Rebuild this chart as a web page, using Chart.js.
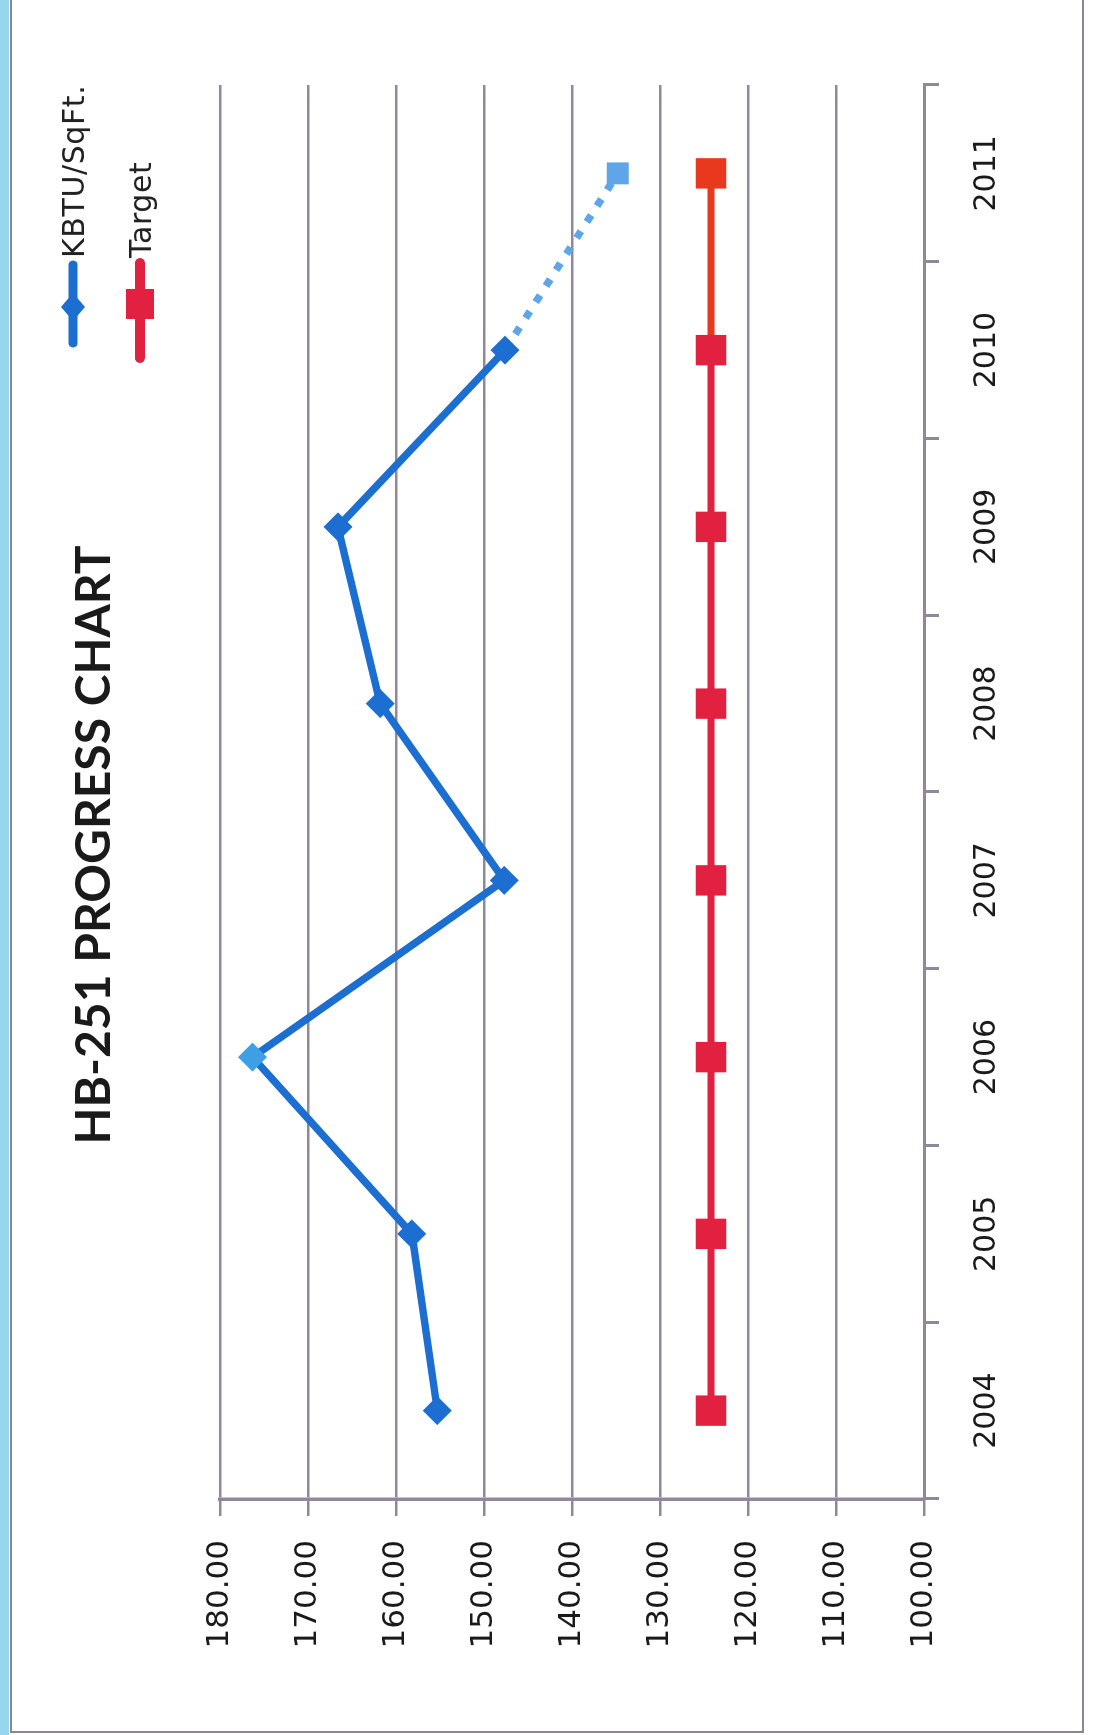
<!DOCTYPE html>
<html>
<head>
<meta charset="utf-8">
<title>HB-251 Progress Chart</title>
<script src="https://cdn.jsdelivr.net/npm/chart.js@4/dist/chart.umd.min.js"></script>
<style>
  html, body { margin: 0; padding: 0; background: #fff; }
  body { width: 1096px; height: 1735px; position: relative; overflow: hidden; }
  #edge { position: absolute; left: 0; top: 0; width: 9px; height: 1735px; background: #97d7ee; }
  #frame { position: absolute; left: 10px; top: -10px; width: 1074px; height: 1743px;
           border: 2px solid #8c8592; box-sizing: border-box; }
  /* the chart is laid out landscape and turned a quarter anticlockwise */
  #turn { position: absolute; left: 0; top: 1735px; width: 1780px; height: 1096px;
          transform-origin: 0 0; transform: rotate(-90deg); }
</style>
</head>
<body>
<div id="edge"></div>
<div id="frame"></div>
<div id="turn"><canvas id="myChart" width="1780" height="1096"></canvas></div>
<script>
var years = ["2004", "2005", "2006", "2007", "2008", "2009", "2010", "2011"];
var kbtu = [155.3, 158.2, 176.3, 147.7, 161.8, 166.6, 147.6, 134.8];
var kbtuProjected = [false, false, false, false, false, false, false, true];
var target = [124.2, 124.2, 124.2, 124.2, 124.2, 124.2, 124.2, 124.2];
var yMin = 100, yMax = 180, yStep = 10;
var chartTitle = "HB-251 PROGRESS CHART";

var blue = "#1c6fd1";
var blueLight = "#5fa6e8";
var red = "#e2203f";
var redOrange = "#e8391f";
var gridGrey = "#918799";

var kbtuPointColors = kbtu.map(function (v, i) {
  if (kbtuProjected[i]) return blueLight;
  return i === 2 ? "#3d9fe4" : blue;
});
var targetPointColors = target.map(function (v, i) {
  return i === target.length - 1 ? redOrange : red;
});

// title and the stacked legend above the plot are drawn by hand
var headings = {
  id: "headings",
  afterDraw: function (chart) {
    var ctx = chart.ctx;
    var r = chart.chartArea.right;
    ctx.save();

    ctx.fillStyle = "#1a1a1a";
    ctx.font = "bold 48px Lato";
    ctx.textAlign = "center";
    ctx.textBaseline = "middle";
    ctx.fillText(chartTitle, 890, 95);

    ctx.lineCap = "round";
    // KBTU/SqFt.
    ctx.strokeStyle = blue;
    ctx.lineWidth = 9;
    ctx.beginPath();
    ctx.moveTo(r - 258, 73);
    ctx.lineTo(r - 180, 73);
    ctx.stroke();
    ctx.fillStyle = blue;
    ctx.beginPath();
    ctx.moveTo(r - 222 - 14, 73);
    ctx.lineTo(r - 222, 73 - 12);
    ctx.lineTo(r - 222 + 14, 73);
    ctx.lineTo(r - 222, 73 + 12);
    ctx.closePath();
    ctx.fill();

    // Target
    ctx.strokeStyle = red;
    ctx.lineWidth = 10;
    ctx.beginPath();
    ctx.moveTo(r - 273, 140);
    ctx.lineTo(r - 178, 140);
    ctx.stroke();
    ctx.fillStyle = red;
    ctx.fillRect(r - 219 - 15, 140 - 14, 30, 28);

    ctx.fillStyle = "#222";
    ctx.font = "30px 'DejaVu Sans'";
    ctx.textAlign = "left";
    ctx.textBaseline = "alphabetic";
    if ("letterSpacing" in ctx) ctx.letterSpacing = "0.6px";
    ctx.fillText("KBTU/SqFt.", r - 173, 84);
    ctx.fillText("Target", r - 173, 151);
    ctx.restore();
  }
};

new Chart("myChart", {
  type: "line",
  data: {
    labels: years,
    datasets: [{
      label: "KBTU/SqFt.",
      data: kbtu,
      borderColor: blue,
      borderWidth: 7.5,
      fill: false,
      tension: 0,
      pointStyle: kbtuProjected.map(function (p) { return p ? "rect" : "rectRot"; }),
      pointRadius: kbtuProjected.map(function (p) { return p ? 15.5 : 14.5; }),
      pointBackgroundColor: kbtuPointColors,
      pointBorderWidth: 0,
      segment: {
        borderColor: function (c) { return kbtuProjected[c.p1DataIndex] ? blueLight : undefined; },
        borderDash: function (c) { return kbtuProjected[c.p1DataIndex] ? [8, 11] : undefined; }
      }
    }, {
      label: "Target",
      data: target,
      borderColor: red,
      borderWidth: 7,
      fill: false,
      tension: 0,
      pointStyle: "rect",
      pointRadius: 21.5,
      pointBackgroundColor: targetPointColors,
      pointBorderWidth: 0,
      segment: {
        borderColor: function (c) { return c.p1DataIndex === target.length - 1 ? redOrange : undefined; }
      }
    }]
  },
  options: {
    responsive: false,
    devicePixelRatio: 1,
    animation: false,
    layout: { padding: { left: 0, right: 130, top: 220, bottom: 0 } },
    plugins: {
      legend: { display: false },
      tooltip: { enabled: false },
      title: { display: false }
    },
    scales: {
      x: {
        offset: true,
        grid: { offset: true, drawOnChartArea: false, drawTicks: true, tickLength: 15,
                color: gridGrey, lineWidth: 3 },
        border: { display: true, color: gridGrey, width: 3 },
        ticks: { color: "#1a1a1a", padding: 30, maxRotation: 0,
                 font: { family: "DejaVu Sans", size: 30 } },
        afterFit: function (scale) { scale.height = 172; }
      },
      y: {
        min: yMin,
        max: yMax,
        grid: { color: gridGrey, lineWidth: 2.5, tickLength: 17, drawTicks: true },
        border: { display: true, color: gridGrey, width: 3.5 },
        ticks: {
          stepSize: yStep,
          color: "#1a1a1a",
          padding: 24,
          font: { family: "DejaVu Sans", size: 31 },
          callback: function (v) { return v.toFixed(2); }
        },
        afterFit: function (scale) { scale.width = 236; }
      }
    }
  },
  plugins: [headings]
});
</script>
</body>
</html>
